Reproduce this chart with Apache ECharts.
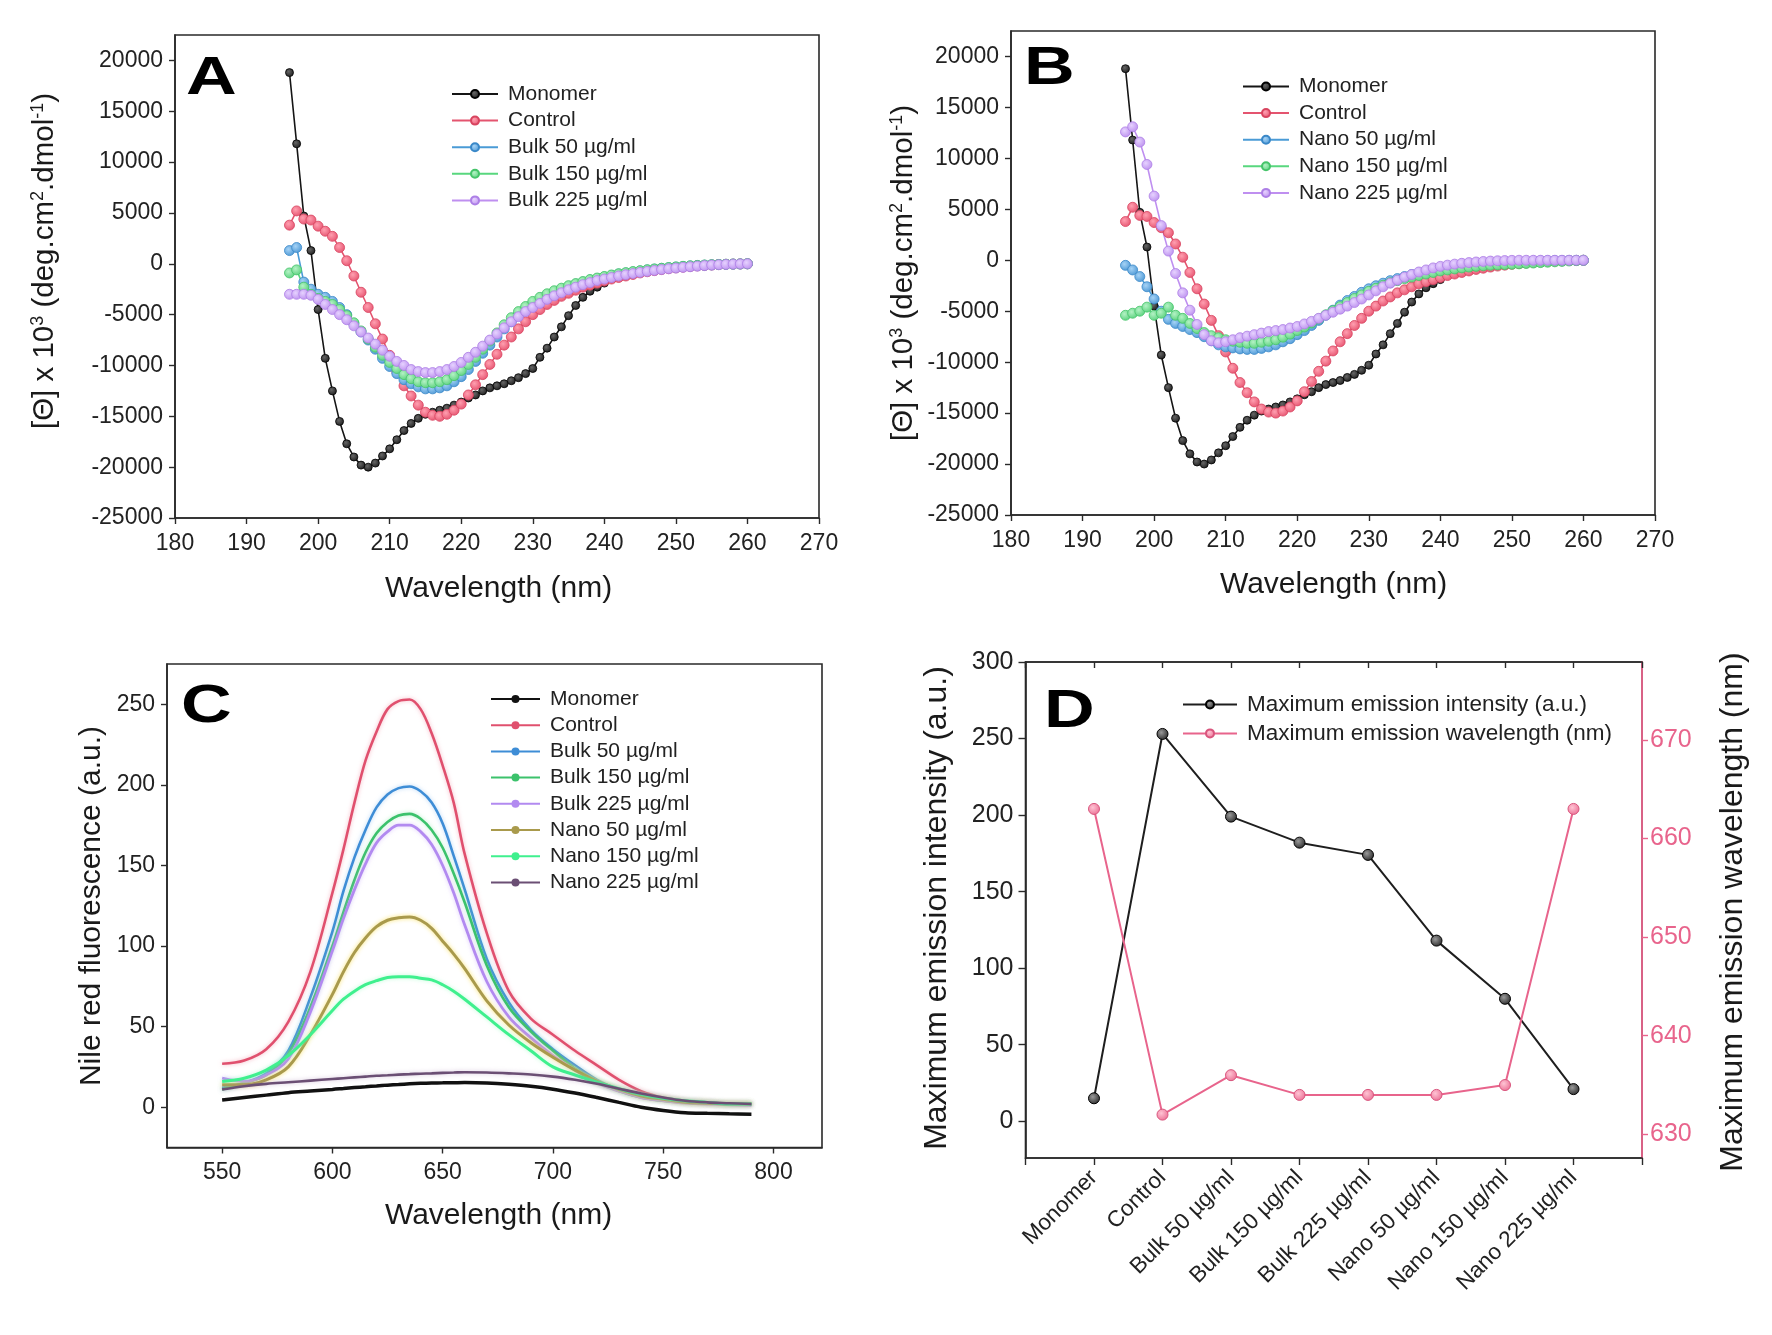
<!DOCTYPE html>
<html><head><meta charset="utf-8">
<script src="https://cdn.jsdelivr.net/npm/echarts@6/dist/echarts.min.js"></script>
<style>html,body{margin:0;padding:0;background:#fff}#c{width:1772px;height:1335px}</style>
</head><body><div id="c"></div>
<script>
// ---------- Panels A & B : CD spectra ----------
const cdWavelengths = [196,197,198,199,200,201,202,203,204,205,206,207,208,209,210,211,212,213,214,215,216,217,218,219,220,221,222,223,224,225,226,227,228,229,230,231,232,233,234,235,236,237,238,239,240,241,242,243,244,245,246,247,248,249,250,251,252,253,254,255,256,257,258,259,260];
const monomerCD = [18800,11800,4700,1300,-4500,-9300,-12500,-15500,-17700,-19000,-19800,-20000,-19600,-18900,-18200,-17300,-16400,-15700,-15200,-14800,-14600,-14400,-14200,-13900,-13600,-13200,-12900,-12500,-12200,-12000,-11800,-11500,-11200,-10800,-10300,-9200,-8300,-7200,-6200,-5100,-4100,-3300,-2700,-2300,-1900];
const controlCD = [3800,5200,4400,4300,3700,3200,2700,1600,300,-1200,-2800,-4300,-5900,-7400,-9000,-10600,-12000,-13000,-13900,-14600,-14900,-15000,-14800,-14400,-13800,-12900,-11900,-10900,-9900,-8900,-8000,-7200,-6400,-5700,-5000,-4500,-4000,-3600,-3200,-2900,-2600,-2300,-2100,-1900,-1700,-1500,-1350,-1200,-1050,-900,-780,-670,-570,-480,-400,-330,-270,-210,-160,-120,-80,-50,-30,-15,0];
const bulk50CD = [1300,1600,-1800,-2500,-3000,-3300,-3700,-4300,-5000,-5900,-6700,-7500,-8400,-9300,-10100,-10800,-11400,-11800,-12100,-12300,-12300,-12200,-12000,-11600,-11100,-10400,-9600,-8800,-8000,-7200,-6400,-5700,-5000,-4400,-3900,-3500,-3100,-2800,-2500,-2250,-2000,-1800,-1600,-1450,-1300,-1150,-1000,-900,-800,-700,-600,-520,-450,-380,-320,-260,-210,-170,-130,-100,-70,-50,-30,-15,0];
const bulk150CD = [-900,-600,-2300,-3000,-3400,-3700,-4000,-4500,-5100,-5800,-6600,-7400,-8200,-9000,-9700,-10300,-10900,-11300,-11600,-11700,-11700,-11600,-11400,-11000,-10500,-9900,-9200,-8400,-7600,-6800,-6000,-5300,-4700,-4200,-3700,-3300,-2950,-2650,-2400,-2150,-1950,-1750,-1550,-1400,-1250,-1100,-980,-870,-770,-680,-590,-510,-440,-370,-310,-250,-200,-160,-120,-90,-65,-45,-28,-14,0];
const bulk225CD = [-3000,-3000,-3000,-3100,-3500,-4000,-4500,-5000,-5500,-6100,-6700,-7300,-7900,-8500,-9100,-9600,-10000,-10400,-10600,-10700,-10700,-10600,-10400,-10100,-9700,-9200,-8700,-8100,-7500,-6900,-6300,-5700,-5200,-4700,-4300,-3900,-3500,-3150,-2850,-2550,-2300,-2050,-1850,-1650,-1500,-1350,-1200,-1080,-960,-850,-750,-660,-570,-490,-420,-350,-290,-230,-180,-130,-90,-60,-35,-15,0];
const nano50CD = [-500,-950,-1600,-2600,-3800,-5000,-5800,-6200,-6500,-6800,-7100,-7500,-7900,-8300,-8500,-8600,-8700,-8750,-8750,-8650,-8500,-8300,-8000,-7700,-7300,-6900,-6400,-5900,-5400,-4900,-4400,-3950,-3550,-3150,-2800,-2500,-2250,-2000,-1800,-1600,-1400,-1250,-1100,-950,-850,-750,-650,-560,-480,-410,-350,-300,-250,-200,-160,-130,-100,-80,-60,-45,-30,-20,-10,-5,0];
const nano150CD = [-5400,-5200,-5000,-4600,-5400,-5200,-4600,-5400,-5700,-6200,-6700,-7100,-7400,-7600,-7800,-7950,-8050,-8150,-8150,-8050,-7950,-7800,-7550,-7250,-6900,-6550,-6150,-5750,-5350,-4950,-4550,-4150,-3750,-3400,-3050,-2750,-2450,-2200,-2000,-1800,-1650,-1500,-1350,-1200,-1050,-950,-850,-750,-670,-600,-540,-490,-450,-420,-390,-350,-310,-270,-230,-190,-150,-110,-70,-35,0];
const nano225CD = [12600,13100,11600,9400,6300,3400,900,-1300,-3200,-4900,-6300,-7300,-7900,-8100,-8000,-7800,-7600,-7450,-7300,-7150,-7000,-6900,-6800,-6650,-6500,-6250,-6000,-5700,-5400,-5100,-4800,-4500,-4150,-3800,-3400,-3000,-2600,-2250,-1950,-1650,-1400,-1150,-950,-750,-600,-480,-380,-300,-230,-170,-120,-80,-50,-30,-10,0,0,0,0,0,0,0,0,0,0];
const cdYTicks = [-25000,-20000,-15000,-10000,-5000,0,5000,10000,15000,20000];

// ---------- Panel C : Nile red fluorescence ----------
const flWavelengths = [550,560,570,580,590,600,605,610,615,620,625,630,635,640,645,650,655,660,670,680,690,700,710,720,730,740,750,760,770,780,790];
const flMonomer = [4.5,6,7.5,9,10,11,11.6,12.2,12.7,13.2,13.7,14.1,14.5,14.8,15,15.1,15.2,15.3,15,14.2,13,11.2,8.8,6,3,0,-2,-3.4,-3.8,-4.1,-4.3];
const flControl = [27,29,36,53,84,133,160,189,215,233,247,252,253,247,232,212,189,157,108,72,55,45,35,26,17,10,6,4,3,2,2];
const flBulk50 = [12,15,21,35,68,109,134,155,172,186,194,198,199,196,189,176,156,135,92,65,48,36,26,17,11,7,5,3,2.5,2,2];
const flBulk150 = [11,15,20,33,62,100,121,141,158,170,177,181,182,179,172,161,145,127,88,62,47,35,24,16,10,6,4,3,2.5,2,2];
const flBulk225 = [18,16,20,30,59,97,117,135,151,164,171,175,175,171,163,150,133,113,78,56,43,32,23,15,10,6,4,2.5,2,1.5,1.2];
const flNano50 = [14,14,17,25,45,70,84,96,105,112,116,117.5,118,116,111,103,95,86,66,51,40,31,23,16,11,7,5,3,2.5,2,2];
const flNano150 = [16,18,23,32,45,60,67,72,76,78.5,80.5,81,81,80,79,76,72,67,56,45,35,25,20,15.5,11.5,8,5.5,4,3,2,2];
const flNano225 = [11,13,14.5,15.5,16.5,17.5,18,18.5,19,19.5,19.8,20.2,20.5,20.8,21,21.3,21.5,21.7,21.5,21,20.3,19,17,14.5,11.5,8.5,6,4,3,2.5,2];
const flXTicks = [550,600,650,700,750,800];
const flYTicks = [0,50,100,150,200,250];

// ---------- Panel D : maxima ----------
const dCategories = ['Monomer','Control','Bulk 50 µg/ml','Bulk 150 µg/ml','Bulk 225 µg/ml','Nano 50 µg/ml','Nano 150 µg/ml','Nano 225 µg/ml'];
const dIntensity = [15,253,199,182,174,118,80,21];
const dWavelength = [663,632,636,634,634,634,635,663];
const dLeftTicks = [0,50,100,150,200,250,300];
const dRightTicks = [630,640,650,660,670];

const FONT = '"Liberation Sans", Arial, Helvetica, sans-serif';
const INK = '#1e1e1e';
const PINK = '#e8648c';

function pairs(xs, ys){ return ys.map((y,i)=>[xs[i], y]); }
function ball(light, base){
  return {type:'radial', x:0.4, y:0.38, r:0.75, colorStops:[{offset:0,color:light},{offset:1,color:base}]};
}
const cdStyles = {
  Monomer:{line:'#151515', light:'#666', base:'#111', size:8, border:'#000'},
  Control:{line:'#e4546f', light:'#ff9fb0', base:'#e24866', size:10, border:'#d8445f'},
  c50:{line:'#4a9bd6', light:'#a6d3f6', base:'#3f8fd0', size:10, border:'#3a88c8'},
  c150:{line:'#58d77e', light:'#b4f2c5', base:'#4ccc72', size:10, border:'#45c46a'},
  c225:{line:'#bf8ff0', light:'#e6d2ff', base:'#b686ec', size:10, border:'#ad7fe6'}
};
function cdSeries(name, st, data, gi){
  return {type:'line', name, xAxisIndex:gi, yAxisIndex:gi, data,
    symbol:'circle', symbolSize:st.size, showSymbol:true,
    lineStyle:{color:st.line, width:1.6},
    itemStyle:{color:ball(st.light, st.base), borderColor:st.border, borderWidth:0.8},
    emphasis:{disabled:true}};
}
function flSeries(name, color, width, data, glow){
  const s = {type:'line', name, xAxisIndex:2, yAxisIndex:2, data, smooth:0.35,
    symbol:'none', showSymbol:false, itemStyle:{color},
    lineStyle:{color, width}, emphasis:{disabled:true}};
  if (glow) { s.lineStyle.shadowColor = glow; s.lineStyle.shadowBlur = 4; }
  return s;
}

const series = [
  cdSeries('A|Monomer', cdStyles.Monomer, pairs(cdWavelengths, monomerCD), 0),
  cdSeries('A|Control', cdStyles.Control, pairs(cdWavelengths, controlCD), 0),
  cdSeries('A|Bulk 50 µg/ml', cdStyles.c50, pairs(cdWavelengths, bulk50CD), 0),
  cdSeries('A|Bulk 150 µg/ml', cdStyles.c150, pairs(cdWavelengths, bulk150CD), 0),
  cdSeries('A|Bulk 225 µg/ml', cdStyles.c225, pairs(cdWavelengths, bulk225CD), 0),
  cdSeries('B|Monomer', cdStyles.Monomer, pairs(cdWavelengths, monomerCD), 1),
  cdSeries('B|Control', cdStyles.Control, pairs(cdWavelengths, controlCD), 1),
  cdSeries('B|Nano 50 µg/ml', cdStyles.c50, pairs(cdWavelengths, nano50CD), 1),
  cdSeries('B|Nano 150 µg/ml', cdStyles.c150, pairs(cdWavelengths, nano150CD), 1),
  cdSeries('B|Nano 225 µg/ml', cdStyles.c225, pairs(cdWavelengths, nano225CD), 1),
  flSeries('C|Monomer', '#111111', 3.5, pairs(flWavelengths, flMonomer)),
  flSeries('C|Control', '#e0506e', 2.6, pairs(flWavelengths, flControl), 'rgba(240,140,160,0.6)'),
  flSeries('C|Bulk 50 µg/ml', '#3e8dd6', 2.6, pairs(flWavelengths, flBulk50), 'rgba(140,190,240,0.6)'),
  flSeries('C|Bulk 150 µg/ml', '#3cc26c', 2.6, pairs(flWavelengths, flBulk150), 'rgba(140,230,170,0.6)'),
  flSeries('C|Bulk 225 µg/ml', '#b28af0', 2.8, pairs(flWavelengths, flBulk225), 'rgba(200,170,250,0.6)'),
  flSeries('C|Nano 50 µg/ml', '#a99a4c', 3.0, pairs(flWavelengths, flNano50), 'rgba(250,225,100,0.9)'),
  flSeries('C|Nano 150 µg/ml', '#3ff08e', 3.0, pairs(flWavelengths, flNano150), 'rgba(150,250,190,0.6)'),
  flSeries('C|Nano 225 µg/ml', '#6b4f74', 2.6, pairs(flWavelengths, flNano225), 'rgba(180,150,190,0.5)'),
  {type:'line', name:'D|Maximum emission intensity (a.u.)', xAxisIndex:3, yAxisIndex:3,
    data: dIntensity.map((v,i)=>[i+1, v]), symbol:'circle', symbolSize:11,
    lineStyle:{color:INK, width:2}, itemStyle:{color:ball('#9a9a9a','#1a1a1a'), borderColor:'#000', borderWidth:1}, emphasis:{disabled:true}},
  {type:'line', name:'D|Maximum emission wavelength (nm)', xAxisIndex:3, yAxisIndex:4,
    data: dWavelength.map((v,i)=>[i+1, v]), symbol:'circle', symbolSize:11,
    lineStyle:{color:PINK, width:2}, itemStyle:{color:ball('#ffc4d4','#e8648c'), borderColor:'#d9557d', borderWidth:1}, emphasis:{disabled:true}}
];

function legendFor(prefix, left, top, itemWidth, gap, fontSize, lh){
  return {show:true, orient:'vertical', left, top, itemWidth, itemHeight:10, itemGap:gap,
    selectedMode:false,
    data: series.filter(s=>s.name.startsWith(prefix+'|')).map(s=>s.name),
    formatter: n => n.split('|')[1],
    textStyle:{fontFamily:FONT, fontSize, color:'#222', lineHeight:lh, padding:[0,0,0,5]}};
}

const frame = {show:true, borderColor:'#2a2a2a', borderWidth:1.6, backgroundColor:'transparent'};
const axLine = {show:true, onZero:false, lineStyle:{color:'#2a2a2a', width:1.6}};
const plain = v => String(v);
const lab = (fs, margin) => ({fontFamily:FONT, fontSize:fs, color:'#222', margin, formatter:plain});
const tick = (len, cv) => { const t = {length:len, lineStyle:{color:'#2a2a2a', width:1.4}}; if (cv) t.customValues = cv; return t; };

function titleText(x, y, text, fs, rot, rich){
  const st = {text, fontFamily:FONT, fontSize:fs, fill:'#1a1a1a', align:'center', verticalAlign:'middle'};
  if (rich) st.rich = rich;
  return {type:'text', x, y, rotation: rot || 0, style: st, z:100};
}
function letter(x, y, t){
  return {type:'text', x, y, scaleX:1.3, style:{text:t, fontFamily:FONT, fontSize:54, fontWeight:'bold', fill:'#000', align:'left', verticalAlign:'middle'}, z:100};
}
const supRich = {sup:{fontFamily:FONT, fontSize:18, fill:'#1a1a1a', padding:[0,0,13,0]}};
const cdYTitle = '[Θ] x 10{sup|3} (deg.cm{sup|2}.dmol{sup|-1})';

const option = {
  animation:false,
  backgroundColor:'#ffffff',
  textStyle:{fontFamily:FONT},
  grid:[
    Object.assign({left:175, top:35, width:644, height:483}, frame),
    Object.assign({left:1011, top:31, width:644, height:484}, frame),
    Object.assign({left:167, top:664, width:655, height:483.5}, frame),
    Object.assign({left:1025.5, top:662, width:616.5, height:496}, frame)
  ],
  xAxis:[
    {type:'value', gridIndex:0, min:180, max:270, interval:10, axisLine:axLine, axisTick:tick(6), axisLabel:lab(23,14), splitLine:{show:false}},
    {type:'value', gridIndex:1, min:180, max:270, interval:10, axisLine:axLine, axisTick:tick(6), axisLabel:lab(23,14), splitLine:{show:false}},
    {type:'value', gridIndex:2, min:525, max:822, axisLine:axLine, axisTick:tick(6, flXTicks), axisLabel:Object.assign(lab(23,14), {customValues:flXTicks}), splitLine:{show:false}},
    {type:'value', gridIndex:3, min:0, max:9, interval:1, axisLine:axLine, axisTick:tick(7),
      axisLabel:Object.assign(lab(22.5,16), {rotate:45, formatter: v => dCategories[v-1] || ''}), splitLine:{show:false}},
    {type:'value', gridIndex:3, position:'top', min:0, max:9, interval:1, axisLine:axLine, axisTick:Object.assign(tick(6), {inside:true}), axisLabel:{show:false}, splitLine:{show:false}}
  ],
  yAxis:[
    {type:'value', gridIndex:0, min:-25000, max:22500, axisLine:axLine, axisTick:tick(6, cdYTicks), axisLabel:Object.assign(lab(23,12), {customValues:cdYTicks}), splitLine:{show:false}},
    {type:'value', gridIndex:1, min:-25000, max:22500, axisLine:axLine, axisTick:tick(6, cdYTicks), axisLabel:Object.assign(lab(23,12), {customValues:cdYTicks}), splitLine:{show:false}},
    {type:'value', gridIndex:2, min:-25, max:275, axisLine:axLine, axisTick:tick(6, flYTicks), axisLabel:Object.assign(lab(23,12), {customValues:flYTicks}), splitLine:{show:false}},
    {type:'value', gridIndex:3, min:-24, max:300, axisLine:axLine, axisTick:tick(7, dLeftTicks), axisLabel:Object.assign(lab(25,12), {customValues:dLeftTicks}), splitLine:{show:false}},
    {type:'value', gridIndex:3, position:'right', min:627.6, max:677.9, axisLine:{show:true, onZero:false, lineStyle:{color:PINK, width:1.8}}, axisTick:{length:6, customValues:dRightTicks, lineStyle:{color:PINK, width:1.4}},
      axisLabel:{fontFamily:FONT, fontSize:25, color:PINK, margin:8, customValues:dRightTicks, formatter:plain}, splitLine:{show:false}}
  ],
  legend:[
    legendFor('A', 446, 78.5, 46, 5.6, 21, 21),
    legendFor('B', 1237, 71, 46, 5.6, 21, 21),
    legendFor('C', 485, 683.5, 49, 5.2, 21, 21),
    legendFor('D', 1177, 688, 54, 5.9, 22.5, 23)
  ],
  graphic:[
    letter(186, 79, 'A'), letter(1024, 69, 'B'), letter(181, 707, 'C'), letter(1044, 712, 'D'),
    titleText(498.6, 589, 'Wavelength (nm)', 30),
    titleText(1333.6, 585, 'Wavelength (nm)', 30),
    titleText(498.6, 1216, 'Wavelength (nm)', 30),
    titleText(45, 261, cdYTitle, 29.5, Math.PI/2, supRich),
    titleText(904, 273, cdYTitle, 29.5, Math.PI/2, supRich),
    titleText(92, 906, 'Nile red fluorescence (a.u.)', 30, Math.PI/2),
    titleText(937, 908, 'Maximum emission intensity (a.u.)', 32, Math.PI/2),
    titleText(1733, 912, 'Maximum emission wavelength (nm)', 32, Math.PI/2)
  ],
  series
};
const chart = echarts.init(document.getElementById('c'), null, {renderer:'canvas'});
chart.setOption(option);
</script></body></html>
